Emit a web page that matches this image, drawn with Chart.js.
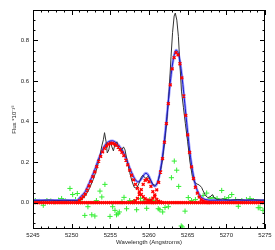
<!DOCTYPE html>
<html>
<head>
<meta charset="utf-8">
<script src="https://cdn.jsdelivr.net/npm/chart.js@4.4.1/dist/chart.umd.min.js"></script>
<style>
  html, body { margin: 0; padding: 0; background: #fff; }
</style>
</head>
<body>
<canvas id="spec" width="275" height="250"></canvas>
<script>
// axis ticks
const xTicks = [5245, 5250, 5255, 5260, 5265, 5270, 5275];
const yTicks = [0.0, 0.2, 0.4, 0.6, 0.8];

// sampling of the fitted components (Angstroms)
const step = 0.25;
const gridStart = 5245;
const gridEnd = 5275;
const compLevel = 0;      // components sit on zero away from their lines
const continuum = 0.012;  // model continuum level

// gaussian components (red markers)
const comp1Start = 5250.75;
const comp1 = [0.0, 0.01, 0.02, 0.03, 0.042, 0.062, 0.083, 0.105, 0.128, 0.152, 0.178, 0.205, 0.228, 0.25,
  0.268, 0.28, 0.288, 0.292, 0.293, 0.29, 0.283, 0.274, 0.262, 0.248, 0.232, 0.21, 0.186, 0.16, 0.135,
  0.112, 0.09, 0.07, 0.053, 0.04, 0.029, 0.02, 0.013, 0.008, 0.004, 0.0];
const comp2Start = 5257.75;
const comp2 = [0.001, 0.004, 0.01, 0.021, 0.04, 0.064, 0.09, 0.11, 0.115, 0.103, 0.08, 0.054, 0.031,
  0.016, 0.007, 0.003, 0.0];
const comp3Start = 5259.5;
const comp3 = [0.002, 0.003, 0.006, 0.012, 0.022, 0.038, 0.063, 0.1, 0.151, 0.217, 0.298, 0.39, 0.488,
  0.581, 0.66, 0.715, 0.74, 0.729, 0.685, 0.615, 0.526, 0.43, 0.334, 0.248, 0.176, 0.119, 0.076, 0.047,
  0.028, 0.015, 0.008, 0.004, 0.002, 0.0];

// total model (blue)
const modelStart = 5250.5;
const modelFlux = [0.012, 0.012, 0.022, 0.032, 0.042, 0.054, 0.074, 0.095, 0.117, 0.14, 0.164, 0.19, 0.217,
  0.24, 0.262, 0.28, 0.292, 0.3, 0.304, 0.305, 0.302, 0.295, 0.286, 0.274, 0.26, 0.244, 0.222, 0.198,
  0.172, 0.148, 0.128, 0.112, 0.103, 0.105, 0.116, 0.131, 0.144, 0.143, 0.129, 0.108, 0.088, 0.081, 0.091,
  0.119, 0.166, 0.229, 0.31, 0.402, 0.5, 0.593, 0.672, 0.727, 0.752, 0.741, 0.697, 0.627, 0.538, 0.442,
  0.346, 0.26, 0.188, 0.131, 0.088, 0.059, 0.04, 0.027, 0.02, 0.016, 0.014, 0.012, 0.012];

// observed spectrum (black)
const obsWl = [5245.0, 5246.0, 5247.0, 5248.0, 5249.0, 5250.0, 5250.8, 5251.3, 5251.8, 5252.3, 5252.8,
  5253.2, 5253.6, 5253.9, 5254.1, 5254.25, 5254.45, 5254.6, 5254.8, 5255.0, 5255.2, 5255.4, 5255.6,
  5255.85, 5256.1, 5256.4, 5256.7, 5256.9, 5257.2, 5257.5, 5257.8, 5258.1, 5258.4, 5258.7, 5259.0,
  5259.2, 5259.4, 5259.6, 5259.9, 5260.2, 5260.5, 5260.8, 5261.1, 5261.4, 5261.7, 5262.0, 5262.3,
  5262.6, 5262.85, 5263.05, 5263.25, 5263.4, 5263.6, 5263.8, 5264.0, 5264.2, 5264.45, 5264.7, 5265.0,
  5265.3, 5265.6, 5265.9, 5266.2, 5266.5, 5266.8, 5267.0, 5267.3, 5267.6, 5267.9, 5268.2, 5268.4,
  5268.8, 5269.5, 5270.5, 5271.5, 5272.5, 5273.5, 5274.5, 5275.0];
const obsFlux = [0.012, 0.01, 0.013, 0.01, 0.012, 0.01, 0.01, 0.015, 0.035, 0.07, 0.115,
  0.16, 0.22, 0.28, 0.31, 0.345, 0.3, 0.245, 0.26, 0.3, 0.275, 0.255, 0.29,
  0.3, 0.265, 0.255, 0.275, 0.26, 0.2, 0.15, 0.105, 0.075, 0.07, 0.095, 0.125,
  0.135, 0.125, 0.12, 0.13, 0.11, 0.09, 0.085, 0.095, 0.14, 0.2, 0.29, 0.4,
  0.55, 0.72, 0.84, 0.92, 0.935, 0.9, 0.82, 0.68, 0.55, 0.47, 0.39, 0.3,
  0.2, 0.13, 0.1, 0.092, 0.087, 0.075, 0.058, 0.035, 0.025, 0.028, 0.04, 0.025,
  0.015, 0.018, 0.012, 0.016, 0.012, 0.015, 0.012, 0.013];

// residuals (green +)
const resWl = [5245.3, 5245.8, 5246.33, 5246.8, 5247.3, 5247.8, 5248.3, 5248.7, 5249.2, 5249.78, 5250.13,
  5250.5, 5250.73, 5251.2, 5251.7, 5252.1, 5252.6, 5253.0, 5253.2, 5253.66, 5253.9, 5254.3, 5254.96,
  5255.3, 5255.6, 5255.8, 5256.0, 5256.16, 5256.5, 5256.77, 5257.1, 5257.5, 5258.0, 5258.4, 5258.9,
  5259.3, 5259.7, 5260.1, 5260.5, 5260.9, 5261.2, 5261.4, 5261.77, 5262.07, 5262.5, 5262.9, 5263.27,
  5263.58, 5263.84, 5264.17, 5264.3, 5264.66, 5265.08, 5265.5, 5266.0, 5266.6, 5267.0, 5267.46, 5267.9,
  5268.3, 5268.8, 5269.4, 5269.8, 5270.3, 5270.7, 5271.2, 5271.55, 5272.0, 5272.6, 5273.06, 5273.5,
  5274.13, 5274.35, 5274.74];
const resFlux = [0.01, 0.006, -0.013, 0.01, 0.008, 0.004, 0.012, 0.02, 0.008, 0.07, 0.04,
  0.015, 0.045, 0.005, -0.063, -0.02, -0.06, -0.066, 0.01, 0.057, 0.028, 0.09, -0.068,
  -0.02, -0.038, -0.06, -0.055, -0.046, 0.005, 0.026, -0.03, 0.01, 0.005, -0.035, 0.02,
  0.008, -0.028, 0.015, 0.01, 0.005, -0.03, -0.035, -0.046, -0.024, -0.02, 0.123, 0.205,
  0.16, 0.08, -0.115, -0.12, -0.042, 0.025, 0.01, 0.015, 0.03, 0.035, 0.047, 0.02,
  0.025, 0.02, 0.06, 0.02, 0.025, 0.04, 0.015, -0.018, 0.01, 0.015, 0.02, 0.01,
  -0.025, -0.025, -0.038];

const FONT = 'Liberation Sans, Arial, sans-serif';

const stepped = (start, vals) => vals.map((v, i) => ({ x: start + i * step, y: v }));
const paired = (xs, ys) => xs.map((x, i) => ({ x: x, y: ys[i] }));

const zeroBand = [];
for (let w = gridStart; w <= gridEnd + 1e-9; w += step) zeroBand.push({ x: w, y: compLevel });

const modelPts = [{ x: gridStart, y: continuum }]
  .concat(stepped(modelStart, modelFlux))
  .concat([{ x: gridEnd, y: continuum }]);

const redStyle = {
  showLine: false,
  pointStyle: 'crossRot',
  pointRadius: 2,
  pointBorderWidth: 1.4,
  borderColor: '#ff0000',
  backgroundColor: '#ff0000',
  order: 0
};

// inward ticks on all four sides, plus frame
const frameTicks = {
  id: 'frameTicks',
  afterDatasetsDraw(chart) {
    const { ctx, chartArea: a, scales: { x, y } } = chart;
    ctx.save();
    ctx.strokeStyle = '#000';
    ctx.lineWidth = 1;
    ctx.strokeRect(a.left + 0.5, a.top + 0.5, a.right - a.left - 1, a.bottom - a.top - 1);
    ctx.beginPath();
    for (let k = 0; k <= 30; k++) {
      const px = Math.round(x.getPixelForValue(gridStart + k)) + 0.5;
      const len = k % 5 === 0 ? 5 : 2.5;
      ctx.moveTo(px, a.bottom); ctx.lineTo(px, a.bottom - len);
      ctx.moveTo(px, a.top); ctx.lineTo(px, a.top + len);
    }
    for (let k = -2; k <= 19; k++) {
      const py = Math.round(y.getPixelForValue(k * 0.05)) + 0.5;
      const len = k % 4 === 0 ? 5 : 2.5;
      ctx.moveTo(a.left, py); ctx.lineTo(a.left + len, py);
      ctx.moveTo(a.right, py); ctx.lineTo(a.right - len, py);
    }
    ctx.stroke();
    ctx.restore();
  }
};

new Chart(document.getElementById('spec'), {
  type: 'scatter',
  data: {
    datasets: [
      Object.assign({ label: 'comp1', data: stepped(comp1Start, comp1) }, redStyle),
      Object.assign({ label: 'comp2', data: stepped(comp2Start, comp2) }, redStyle),
      Object.assign({ label: 'comp3', data: stepped(comp3Start, comp3) }, redStyle),
      Object.assign({ label: 'zero', data: zeroBand }, redStyle),
      {
        label: 'model', data: modelPts, showLine: true, pointRadius: 0,
        borderColor: '#1a1acc', borderWidth: 1, tension: 0.3, order: 1
      },
      {
        label: 'observed', data: paired(obsWl, obsFlux), showLine: true, pointRadius: 0,
        borderColor: '#333333', borderWidth: 1, tension: 0, order: 2
      },
      {
        label: 'model (wide)', data: modelPts, showLine: true, pointRadius: 0,
        borderColor: '#a0a0ff', borderWidth: 2.6, tension: 0.3, order: 3
      },
      {
        label: 'residual', data: paired(resWl, resFlux), showLine: false,
        pointStyle: 'cross', pointRadius: 2.6, pointBorderWidth: 1,
        borderColor: '#33ee33', backgroundColor: '#33ee33', order: 4
      }
    ]
  },
  options: {
    responsive: false,
    animation: false,
    devicePixelRatio: 1,
    layout: { padding: { top: 10, right: 10, left: 0, bottom: 0 } },
    plugins: { legend: { display: false }, tooltip: { enabled: false } },
    scales: {
      x: {
        type: 'linear', min: gridStart, max: gridEnd,
        afterBuildTicks: s => { s.ticks = xTicks.map(v => ({ value: v })); },
        afterFit: s => { s.height = 21; },
        grid: { display: false, drawTicks: false },
        border: { display: false },
        ticks: { padding: 3, autoSkip: false, maxRotation: 0, color: '#222',
          font: { family: FONT, size: 6 }, callback: v => String(v) },
        title: { display: true, text: 'Wavelength (Angstroms)', color: '#222',
          font: { family: FONT, size: 6 }, padding: { top: 0, bottom: 4 } }
      },
      y: {
        type: 'linear', min: -0.13, max: 0.95,
        afterBuildTicks: s => { s.ticks = yTicks.map(v => ({ value: v })); },
        afterFit: s => { s.width = 33; },
        grid: { display: false, drawTicks: false },
        border: { display: false },
        ticks: { padding: 4, color: '#222', font: { family: FONT, size: 6 },
          callback: v => v.toFixed(1) },
        title: { display: true, text: 'Flux *10\u207B\u00B9\u2075', color: '#222',
          font: { family: FONT, size: 6 }, padding: { top: 11, bottom: 0 } }
      }
    }
  },
  plugins: [frameTicks]
});
</script>
</body>
</html>
